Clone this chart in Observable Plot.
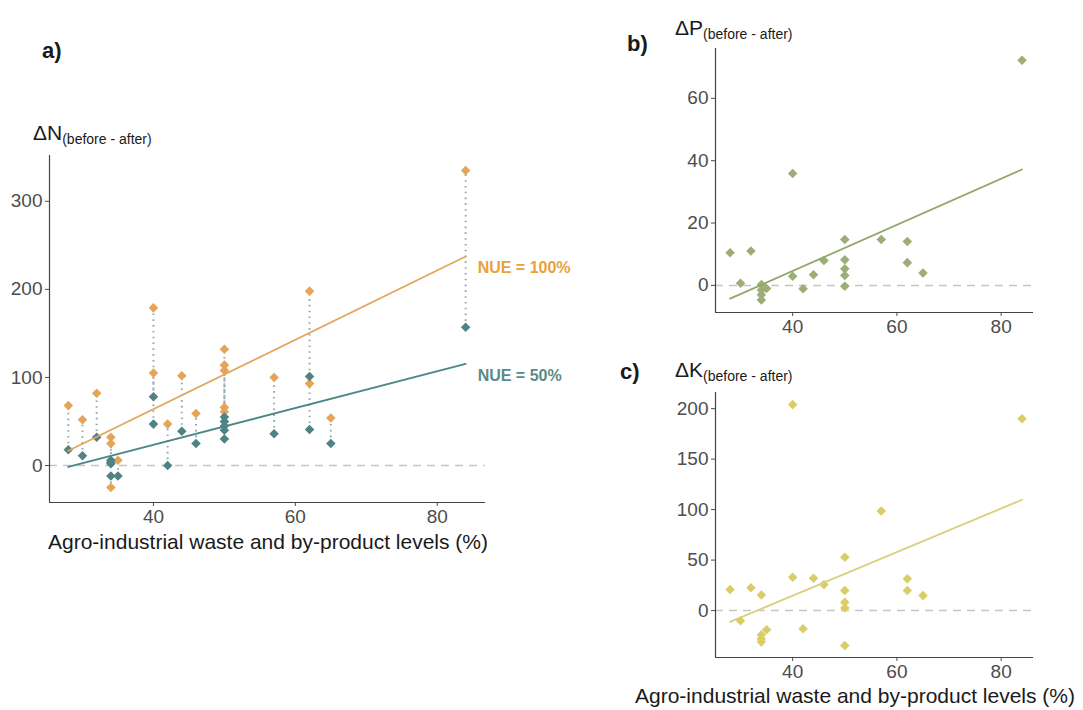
<!DOCTYPE html>
<html>
<head>
<meta charset="utf-8">
<script src="https://cdn.jsdelivr.net/npm/d3@7"></script>
<script src="https://cdn.jsdelivr.net/npm/@observablehq/plot@0.6"></script>
<style>
  body { margin: 0; background: #fff; }
  #root { position: relative; width: 1083px; height: 710px; background: #fff; overflow: hidden;
          font-family: "Liberation Sans", Arial, sans-serif; color: #1a1a1a; }
  .abs { position: absolute; white-space: nowrap; line-height: 1; }
  .panel { position: absolute; }
  .tag { font-weight: bold; font-size: 22px; }
  .ytitle { font-size: 21px; }
  .ytitle span { font-size: 14px; position: relative; top: 4px; }
  .xtitle { font-size: 21px; }
</style>
</head>
<body>
<div id="root">
  <div id="pa" class="panel" style="left:0px; top:140px;"></div>
  <div id="pb" class="panel" style="left:600px; top:30px;"></div>
  <div id="pc" class="panel" style="left:600px; top:375px;"></div>

  <div class="abs tag" style="left:42px; top:40px;">a)</div>
  <div class="abs tag" style="left:627px; top:33px;">b)</div>
  <div class="abs tag" style="left:620px; top:361px;">c)</div>

  <div class="abs ytitle" style="left:33px; top:122px;">ΔN<span>(before - after)</span></div>
  <div class="abs ytitle" style="left:675px; top:17px;">ΔP<span>(before - after)</span></div>
  <div class="abs ytitle" style="left:675px; top:359px;">ΔK<span>(before - after)</span></div>

  <div class="abs xtitle" style="left:48px; top:531px;">Agro-industrial waste and by-product levels (%)</div>
  <div class="abs xtitle" style="left:635px; top:685px;">Agro-industrial waste and by-product levels (%)</div>
</div>
<script>
// ---------- Data ----------
// Panel a: ΔN at two nitrogen use efficiencies
const nX   = [28, 30, 32, 34, 34, 34, 34, 35, 40, 40, 42, 44, 46, 50, 50, 50, 50, 50, 57, 62, 62, 65, 84];
const n100 = [68, 52, 82, 32, 25, 4, -25, 6, 179, 105, 47, 102, 59, 132, 114, 108, 66, 61, 100, 198, 93, 54, 335];
const n50  = [18, 11, 32, 6, 3, 2, -12, -12, 78, 47, 0, 39, 25, 55, 50, 45, 40, 30, 36, 101, 41, 25, 157];
const nueLabels = ["NUE = 100%", "NUE = 50%"];

// Panel b: ΔP
const pX   = [28, 30, 32, 34, 34, 34, 34, 35, 40, 40, 42, 44, 46, 50, 50, 50, 50, 50, 57, 62, 62, 65, 84];
const pVal = [10.5, 0.7, 11, 0.3, -3, -4.7, -1.5, -1, 35.9, 2.9, -1.1, 3.4, 8, 14.7, 8.2, 5.3, 3.2, -0.3, 14.7, 14.1, 7.3, 4, 72.2];

// Panel c: ΔK
const kX   = [28, 30, 32, 34, 34, 34, 34, 35, 40, 40, 42, 44, 46, 50, 50, 50, 50, 50, 57, 62, 62, 65, 84];
const kVal = [20.8, -10, 22.5, 15.5, -24, -28, -31, -19, 204, 33, -18, 32, 25.7, 52.8, 19.8, 8.2, 2.6, -34.7, 98.7, 31.4, 19.8, 14.8, 190];

// Ticks
const xTicks  = [40, 60, 80];
const aYTicks = [0, 100, 200, 300];
const bYTicks = [0, 20, 40, 60];
const cYTicks = [0, 50, 100, 150, 200];

// ---------- Styling ----------
const C = {
  orange: "#E6A456", orangeLine: "#E3A65C", orangeText: "#E8A13C",
  teal: "#4F8383", tealLine: "#4A8787", tealText: "#5A8B8B",
  green: "#9CAE75", greenLine: "#93A86A",
  yellow: "#DACD66", yellowLine: "#D9CF7C",
  connector: "#93A9B3", zero: "#C6C6C6", axis: "#444", tick: "#4d4d4d"
};
const font = "'Liberation Sans', Arial, sans-serif";

function fit(xs, ys) {
  const mx = d3.mean(xs), my = d3.mean(ys);
  let sxy = 0, sxx = 0;
  xs.forEach((x, i) => { sxy += (x - mx) * (ys[i] - my); sxx += (x - mx) ** 2; });
  const b = sxy / sxx;
  return x => my + b * (x - mx);
}

function baseMarks(xDomain, yDomain, yTicks) {
  return [
    Plot.ruleY([0], {stroke: C.zero, strokeWidth: 1.5, strokeDasharray: "8,6"})
  ];
}
function axisMarks(xDomain, yDomain, yTicks) {
  return [
    Plot.axisX({ticks: xTicks, tickSize: 4, tickPadding: 3, color: C.tick, label: null}),
    Plot.axisY({ticks: yTicks, tickSize: 4, tickPadding: 3, color: C.tick, label: null}),
    Plot.ruleX([xDomain[0]], {stroke: C.axis, strokeWidth: 1.2}),
    Plot.ruleY([yDomain[0]], {stroke: C.axis, strokeWidth: 1.2})
  ];
}
const style = {fontFamily: font, fontSize: "19px", background: "transparent", overflow: "visible"};

// ---------- Panel a ----------
const dataA = nX.map((x, i) => ({x, n100: n100[i], n50: n50[i]}));
const aX = [25.35, 86.8], aY = [-42, 352];
const xMax = d3.max(nX);
const f100 = fit(nX, n100), f50 = fit(nX, n50);
const labA = [
  {x: xMax, y: f100(xMax), label: nueLabels[0]},
  {x: xMax, y: f50(xMax), label: nueLabels[1]}
];
const plotA = Plot.plot({
  width: 600, height: 430,
  marginLeft: 49, marginRight: 115, marginTop: 15, marginBottom: 68,
  x: {domain: aX, label: null},
  y: {domain: aY, label: null},
  style,
  marks: [
    ...baseMarks(aX, aY, aYTicks),
    Plot.ruleX(dataA, {x: "x", y1: "n50", y2: "n100", stroke: C.connector, strokeWidth: 2, strokeDasharray: "1.6,4.2"}),
    Plot.dot(dataA, {x: "x", y: "n100", symbol: "diamond2", r: 4.3, fill: C.orange}),
    Plot.dot(dataA, {x: "x", y: "n50", symbol: "diamond2", r: 4.3, fill: C.teal}),
    Plot.linearRegressionY(dataA, {x: "x", y: "n100", stroke: C.orangeLine, strokeWidth: 1.8, ci: 0}),
    Plot.linearRegressionY(dataA, {x: "x", y: "n50", stroke: C.tealLine, strokeWidth: 1.8, ci: 0}),
    Plot.text([labA[0]], {x: "x", y: "y", text: "label", dx: 12, dy: 11, textAnchor: "start", fill: C.orangeText, fontWeight: "bold", fontSize: 16}),
    Plot.text([labA[1]], {x: "x", y: "y", text: "label", dx: 12, dy: 12, textAnchor: "start", fill: C.tealText, fontWeight: "bold", fontSize: 16}),
    ...axisMarks(aX, aY, aYTicks)
  ]
});
document.getElementById("pa").appendChild(plotA);

// ---------- Panel b ----------
const dataB = pX.map((x, i) => ({x, y: pVal[i]}));
const bX = [25.2, 86.2], bY = [-8.7, 76];
const plotB = Plot.plot({
  width: 483, height: 320,
  marginLeft: 115, marginRight: 50, marginTop: 18, marginBottom: 38,
  x: {domain: bX, label: null},
  y: {domain: bY, label: null},
  style,
  marks: [
    ...baseMarks(bX, bY, bYTicks),
    Plot.dot(dataB, {x: "x", y: "y", symbol: "diamond2", r: 4.3, fill: C.green}),
    Plot.linearRegressionY(dataB, {x: "x", y: "y", stroke: C.greenLine, strokeWidth: 1.8, ci: 0}),
    ...axisMarks(bX, bY, bYTicks)
  ]
});
document.getElementById("pb").appendChild(plotB);

// ---------- Panel c ----------
const dataC = kX.map((x, i) => ({x, y: kVal[i]}));
const cX = [25.2, 86.2], cY = [-46.5, 216];
const plotC = Plot.plot({
  width: 483, height: 310,
  marginLeft: 115, marginRight: 50, marginTop: 17, marginBottom: 28,
  x: {domain: cX, label: null},
  y: {domain: cY, label: null},
  style,
  marks: [
    ...baseMarks(cX, cY, cYTicks),
    Plot.dot(dataC, {x: "x", y: "y", symbol: "diamond2", r: 4.3, fill: C.yellow}),
    Plot.linearRegressionY(dataC, {x: "x", y: "y", stroke: C.yellowLine, strokeWidth: 1.8, ci: 0}),
    ...axisMarks(cX, cY, cYTicks)
  ]
});
document.getElementById("pc").appendChild(plotC);
</script>
</body>
</html>
